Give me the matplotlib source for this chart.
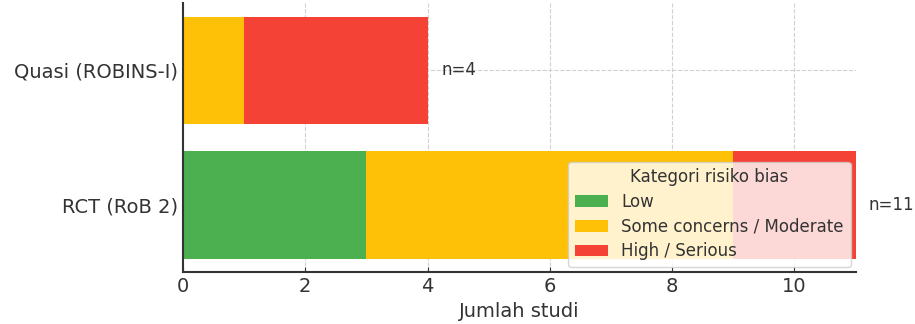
import matplotlib.pyplot as plt
import numpy as np

groups = ['RCT (RoB 2)', 'Quasi (ROBINS-I)']
low = [3, 0]
some = [6, 1]
high = [2, 3]
labels = ['Low', 'Some concerns / Moderate', 'High / Serious']
colors = ['#4CAF50', '#FFC107', '#F44336']

plt.rcParams['text.color'] = '#333333'
plt.rcParams['xtick.color'] = '#333333'
plt.rcParams['ytick.color'] = '#333333'
plt.rcParams['axes.labelcolor'] = '#333333'

fig, ax = plt.subplots(figsize=(9.15, 3.24), dpi=100)

y = np.arange(len(groups))
left = np.zeros(len(groups))
for vals, lab, col in zip([low, some, high], labels, colors):
    ax.barh(y, vals, left=left, color=col, label=lab, height=0.8, zorder=2)
    left += np.array(vals)

for yi, tot in zip(y, left):
    ax.text(tot + 0.22, yi, f'n={int(tot)}', va='center', fontsize=12, color='#333333')

ax.set_yticks(y)
ax.set_yticklabels(groups, fontsize=14)
ax.set_xlim(0, 11)
ax.set_ylim(-0.5, 1.5)
ax.set_xticks([0, 2, 4, 6, 8, 10])
ax.tick_params(axis='x', labelsize=14, direction='in')
ax.tick_params(axis='y', direction='in')
ax.set_xlabel('Jumlah studi', fontsize=14)
ax.grid(True, linestyle='--', color='#d0d0d0', linewidth=0.8, zorder=0)
ax.set_axisbelow(True)
ax.spines[['right', 'top']].set_visible(False)
ax.spines['left'].set_linewidth(1.5)
ax.spines['bottom'].set_linewidth(1.5)
ax.spines['left'].set_color('#333333')
ax.spines['bottom'].set_color('#333333')

leg = ax.legend(title='Kategori risiko bias', loc='lower right', fontsize=12,
                title_fontsize=12, framealpha=0.8, borderaxespad=0.3,
                labelspacing=0.4)

fig.subplots_adjust(left=0.2, right=0.935, top=0.99, bottom=0.16)
fig.savefig('out.png', dpi=100)
